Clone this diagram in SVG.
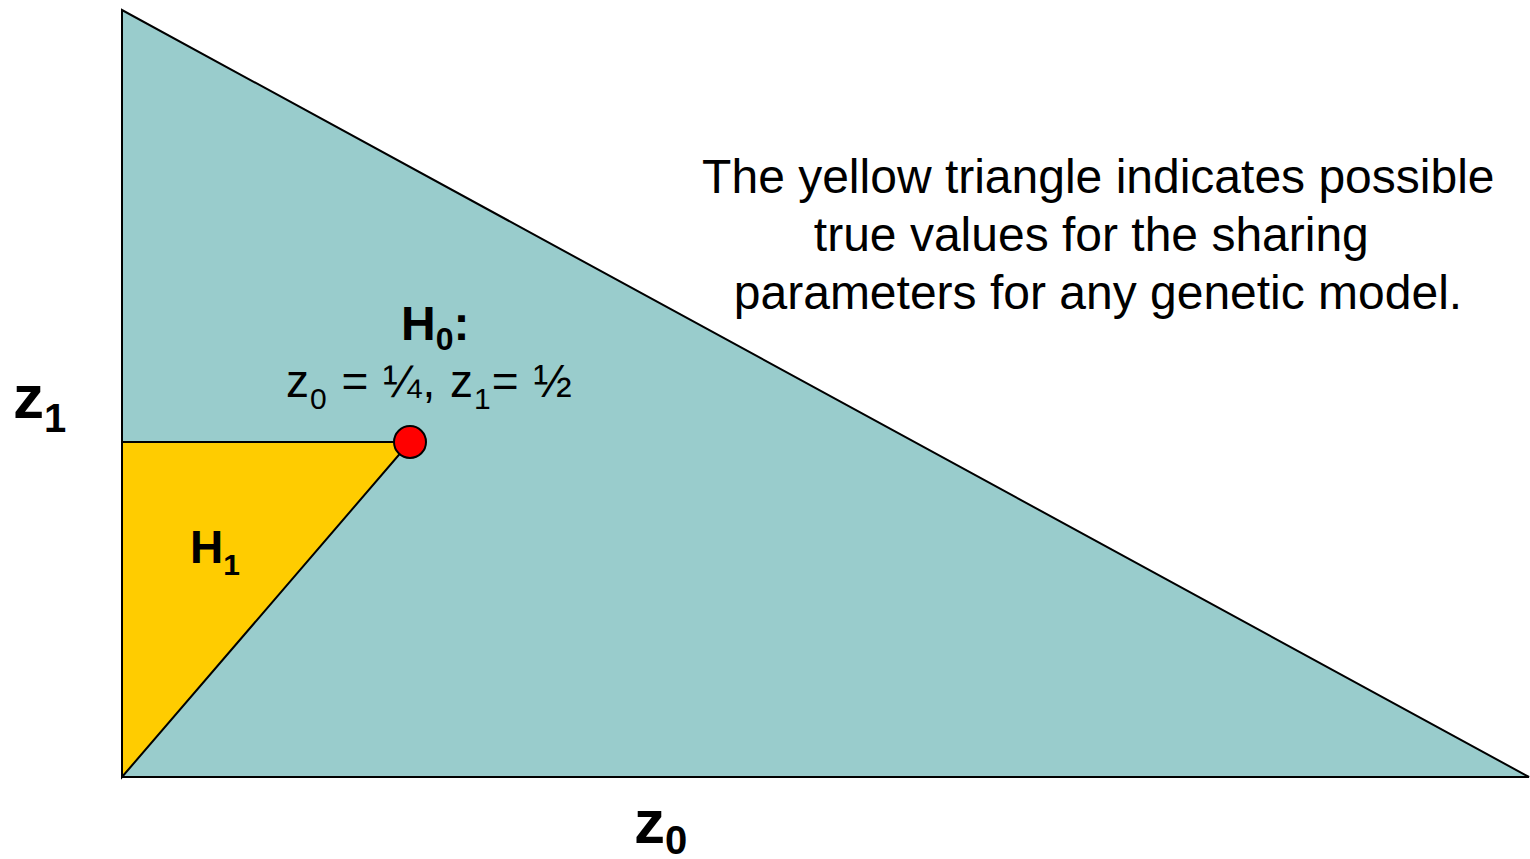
<svg xmlns="http://www.w3.org/2000/svg" width="1530" height="859" viewBox="0 0 1530 859">
<style>
text{font-family:"Liberation Sans",Arial,sans-serif;fill:#000}
.b{font-weight:bold}
.shape{stroke:#000;stroke-width:2;stroke-linejoin:miter}
</style>
<rect width="1530" height="859" fill="#fff"/>
<g id="big-triangle"><polygon class="shape" points="122,10 122,777 1529,777" fill="#99cccc"/></g>
<g id="h1-triangle"><polygon class="shape" points="122,442 410,442 122,777" fill="#ffcc00"/>
<text class="b" x="190" y="563" font-size="46">H<tspan font-size="30" dy="12">1</tspan></text></g>
<g id="h0-point"><circle cx="410" cy="442" r="16" fill="#ff0000" stroke="#000" stroke-width="2"/>
<text class="b" x="401" y="340" font-size="48">H<tspan font-size="32" dy="10">0</tspan><tspan dy="-10">:</tspan></text>
<text x="286" y="397" font-size="46" letter-spacing="1">z<tspan font-size="30" dy="12">0</tspan><tspan dy="-12"> = ¼, z</tspan><tspan font-size="30" dy="12">1</tspan><tspan dy="-12">= ½</tspan></text></g>
<g id="axis-labels">
<text class="b" x="13" y="418" font-size="62">z<tspan font-size="40" dy="14">1</tspan></text>
<text class="b" x="634" y="843" font-size="62">z<tspan font-size="40" dy="11">0</tspan></text></g>
<g id="note"><text font-size="48" text-anchor="middle">
<tspan x="1105" y="193">The yellow triangle indicates possible</tspan>
<tspan x="1098" y="251">true values for the sharing</tspan>
<tspan x="1098" y="309">parameters for any genetic model.</tspan></text></g>
</svg>
